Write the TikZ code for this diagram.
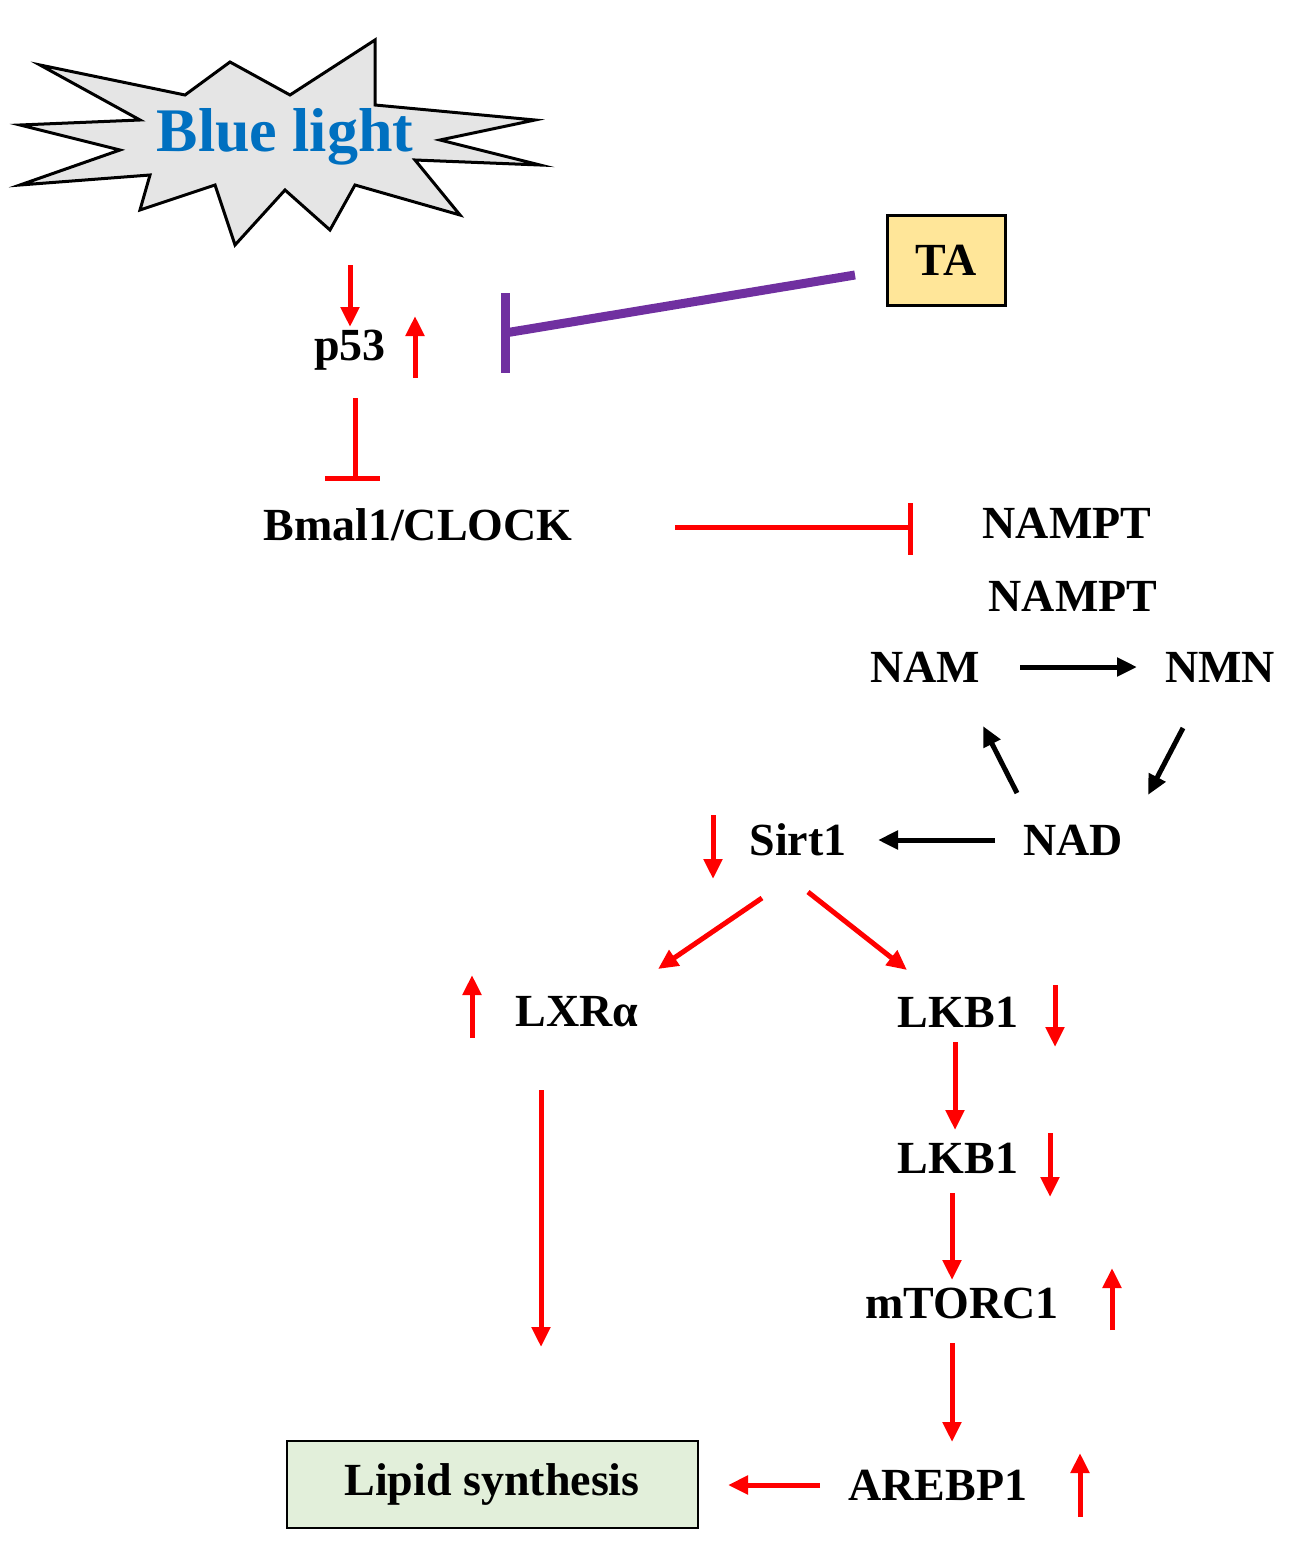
\documentclass[tikz,border=0pt]{standalone}
\usepackage{fontspec}
\setmainfont{Liberation Serif}
\usetikzlibrary{arrows.meta}
\definecolor{myred}{RGB}{255,0,0}
\definecolor{mypurple}{RGB}{112,48,160}
\definecolor{myblue}{RGB}{0,112,192}
\definecolor{myyellow}{RGB}{255,230,153}
\definecolor{mygreen}{RGB}{226,239,218}
\begin{document}
\begin{tikzpicture}[x=1pt,y=-1pt,
  lbl/.style={font=\fontsize{46}{50}\selectfont\bfseries, inner sep=0pt},
  ra/.style={myred,line width=5pt,-{Triangle[length=20pt,width=18pt]}},
  ba/.style={black,line width=5pt,-{Triangle[length=20pt,width=18pt]}},
  rl/.style={myred,line width=5pt}]
\useasboundingbox (0,0) rectangle (1313,1560);
\draw[line width=3pt,fill=black!10,line join=miter]
 (40,65)--(185,95)--(230,62)--(290,95)--(375,40)--(375,105)--(535,120)--(440,140)--(540,165)--(415,160)--(460,215)--(355,185)--(330,230)--(285,190)--(235,245)--(215,185)--(140,210)--(150,175)--(20,185)--(120,150)--(20,125)--(140,120)--cycle;
\node[lbl,text=myblue,font=\fontsize{62}{66}\selectfont\bfseries] (bl) at (285,137) {Blue light};
\node[draw,line width=3pt,fill=myyellow,minimum width=118pt,minimum height=90pt,lbl] (ta) at (946,260) {TA};
\draw[mypurple,line width=9pt] (855,275)--(505,333);
\draw[mypurple,line width=9pt] (505,293)--(505,373);
\node[lbl] (p53) at (350,350) {p53};
\draw[ra] (350,265)--(350,327);
\draw[ra] (415,378)--(415,316);
\draw[rl] (355,398)--(355,478);
\draw[rl] (325,478)--(380,478);
\node[lbl] (bmal) at (418,525) {Bmal1/CLOCK};
\draw[rl] (675,527)--(910,527);
\draw[rl] (910,503)--(910,555);
\node[lbl] (n1) at (1067,523) {NAMPT};
\node[lbl] (n2) at (1073,596) {NAMPT};
\node[lbl] (nam) at (925,667) {NAM};
\node[lbl] (nmn) at (1220,667) {NMN};
\node[lbl] (nad) at (1073,840) {NAD};
\node[lbl] (sirt) at (798,840) {Sirt1};
\draw[ba] (1020,667)--(1137,667);
\draw[ba] (1017,793)--(983,726);
\draw[ba] (1183,728)--(1148,795);
\draw[ba] (995,840)--(878,840);
\draw[ra] (713,815)--(713,879);
\draw[ra] (762,898)--(658,969);
\draw[ra] (808,892)--(907,970);
\node[lbl] (lxr) at (577,1012) {LXRα};
\node[lbl] (lkb) at (958,1012) {LKB1};
\draw[ra] (472,1038)--(472,975);
\draw[ra] (1055,985)--(1055,1047);
\draw[ra] (541,1090)--(541,1347);
\node[lbl] (lkb2) at (958,1158) {LKB1};
\draw[ra] (955,1042)--(955,1130);
\draw[ra] (1050,1133)--(1050,1197);
\node[lbl] (mt) at (962,1303) {mTORC1};
\draw[ra] (952,1193)--(952,1280);
\draw[ra] (1112,1330)--(1112,1268);
\node[lbl] (ar) at (938,1485) {AREBP1};
\draw[ra] (952,1343)--(952,1442);
\draw[ra] (1080,1517)--(1080,1453);
\node[draw,line width=2pt,fill=mygreen,minimum width=411pt,minimum height=87pt,lbl] (lip) at (492,1484) {Lipid synthesis};
\draw[ra] (820,1485)--(728,1485);
\end{tikzpicture}
\end{document}
